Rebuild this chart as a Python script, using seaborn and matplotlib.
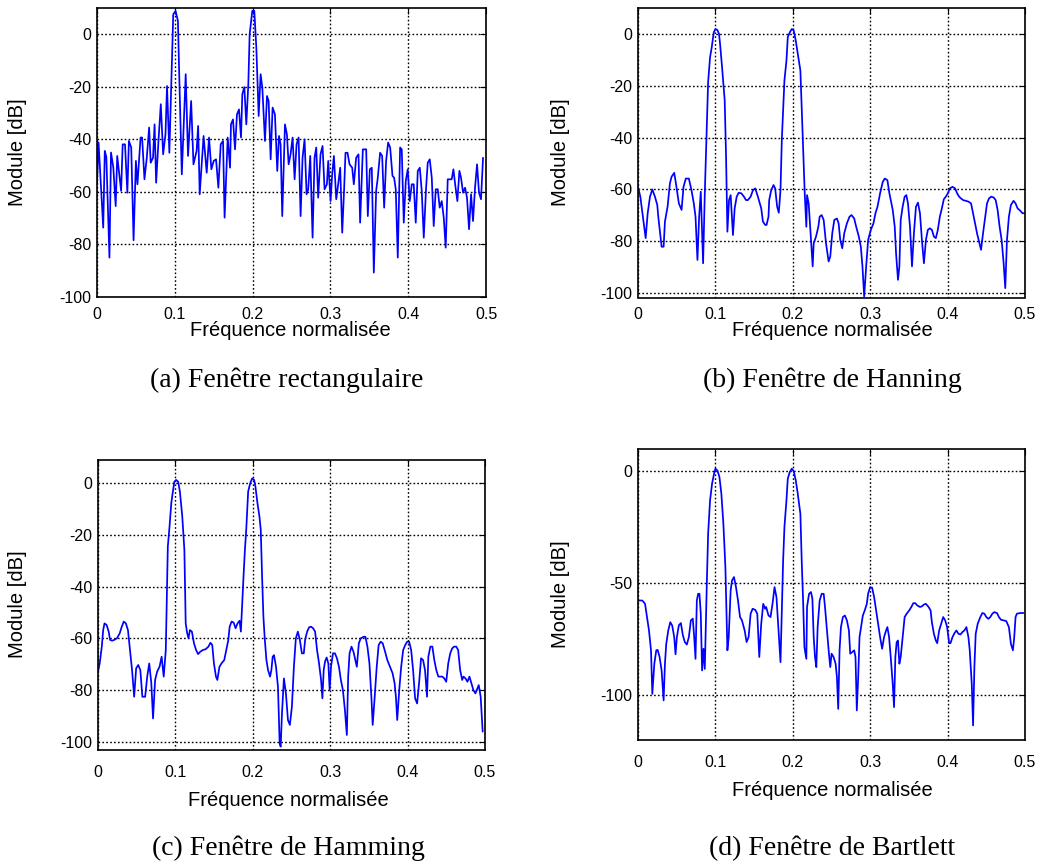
import matplotlib
matplotlib.use("Agg")
import matplotlib.pyplot as plt
import seaborn as sns

# ---------------------------------------------------------------------------
# Spectra (normalised frequency, magnitude in dB) of the two-tone test signal
# ---------------------------------------------------------------------------
freq_rect = [
    0.000, 0.002, 0.008, 0.010, 0.012, 0.016, 0.018, 0.021, 0.024, 0.026,
    0.031, 0.033, 0.036, 0.039, 0.041, 0.044, 0.047, 0.050, 0.052, 0.056,
    0.058, 0.061, 0.064, 0.067, 0.069, 0.072, 0.074, 0.076, 0.079, 0.082,
    0.085, 0.088, 0.090, 0.093, 0.096, 0.098, 0.101, 0.104, 0.106, 0.109,
    0.114, 0.117, 0.121, 0.124, 0.128, 0.130, 0.132, 0.137, 0.141, 0.144,
    0.147, 0.150, 0.153, 0.156, 0.159, 0.162, 0.164, 0.168, 0.171,
    0.1722, 0.1748, 0.1774, 0.1799, 0.1825, 0.1851, 0.1868, 0.1894, 0.1919, 0.1945,
    0.1962, 0.1996, 0.2022, 0.2048, 0.2078, 0.2103, 0.2125, 0.2159, 0.2185, 0.2206,
    0.2232, 0.2257, 0.2287, 0.2317, 0.2339, 0.2360, 0.2381, 0.2416, 0.2441, 0.2463,
    0.2488, 0.2514, 0.2540, 0.2565, 0.2591, 0.2617, 0.2642, 0.2668, 0.2694, 0.2715,
    0.2741, 0.2771, 0.2796, 0.2818, 0.2843, 0.2873, 0.2899, 0.2925, 0.2955, 0.2972,
    0.3002, 0.3023, 0.3045, 0.3075, 0.3100, 0.3126, 0.3152, 0.3177, 0.3194, 0.3220,
    0.3246, 0.3280, 0.3301, 0.3331, 0.3361, 0.3382, 0.3417,
    0.3460, 0.3481, 0.3507, 0.3532, 0.3558, 0.3588, 0.3609, 0.3639, 0.3665, 0.3691,
    0.3716, 0.3742, 0.3768, 0.3798, 0.3819, 0.3840, 0.3866, 0.3896, 0.3917, 0.3943,
    0.3969, 0.3994, 0.4020, 0.4046, 0.4071, 0.4097, 0.4123, 0.4149, 0.4174, 0.4200,
    0.4230, 0.4251, 0.4277, 0.4303, 0.4328, 0.4354, 0.4380, 0.4405, 0.4431, 0.4457,
    0.4482, 0.4508, 0.4534, 0.4559, 0.4581, 0.4606, 0.4632, 0.4658, 0.4679, 0.4705,
    0.4731, 0.4756, 0.4782, 0.4808, 0.4833, 0.4859, 0.4885, 0.4910, 0.4936, 0.4962,
]
db_rect = [
    -57.1, -41.2, -73.6, -44.4, -46.7, -85.0, -45.0, -50.8, -65.4, -46.3,
    -59.6, -41.9, -41.9, -60.3, -40.6, -43.1, -78.4, -48.2, -57.1, -39.3,
    -39.3, -55.2, -47.0, -35.5, -48.9, -47.0, -34.3, -56.5, -40.6, -26.6,
    -45.7, -38.1, -19.7, -45.1, -12.7, 7.6, 8.9, 5.1, -19.0, -53.3,
    -15.2, -46.3, -25.4, -49.5, -44.4, -34.9, -60.9, -38.7, -52.7, -39.3,
    -51.4, -48.2, -47.6, -58.4, -41.9, -40.6, -69.8, -39.3, -50.8,
    -34.3, -32.4, -43.8, -30.5, -28.6, -39.3, -22.8, -20.1, -34.3, -19.0,
    0.0, 8.9, 8.9, -5.1, -31.1, -15.2, -20.3, -40.6, -23.5, -25.4,
    -47.6, -27.9, -30.5, -52.0, -38.7, -41.9, -69.2, -34.3, -38.1, -49.5,
    -45.7, -39.3, -55.2, -41.9, -39.3, -69.2, -47.0, -40.0, -60.9, -59.0,
    -46.3, -77.4, -47.0, -43.1, -62.2, -45.7, -42.5, -59.0, -57.1, -48.2,
    -63.5, -53.3, -46.3, -62.8, -57.1, -50.8, -75.5, -58.4, -45.1, -45.1,
    -49.5, -50.8, -57.1, -47.0, -45.7, -71.7, -43.8,
    -43.8, -69.2, -51.4, -50.8, -90.7, -59.6, -54.6, -45.1, -46.3, -66.0,
    -48.2, -41.2, -43.1, -53.9, -54.6, -59.0, -85.0, -43.1, -43.8, -71.7,
    -55.8, -51.4, -63.5, -57.1, -57.1, -71.7, -52.0, -50.8, -59.6, -77.4,
    -58.4, -48.9, -47.6, -54.6, -73.0, -59.0, -59.0, -66.0, -63.5, -69.8,
    -81.2, -55.2, -55.2, -55.2, -51.4, -57.7, -63.5, -52.0, -54.6, -60.3,
    -58.4, -62.2, -74.2, -60.9, -71.1, -58.4, -49.5, -60.3, -62.8, -47.0,
]

freq_hann = [
    0.000, 0.003, 0.0099, 0.0125, 0.0155, 0.0185, 0.0219, 0.0249, 0.0262, 0.0305,
    0.0331, 0.0348, 0.0382, 0.0412, 0.0434, 0.0468, 0.0490, 0.0528, 0.0563, 0.0588,
    0.0618, 0.0657, 0.0691, 0.0721, 0.0743, 0.0768, 0.0790, 0.0811, 0.0841, 0.0863,
    0.0884, 0.0906, 0.0931, 0.0953, 0.0979, 0.1000, 0.1026, 0.1047, 0.1060, 0.1086,
    0.1120, 0.1137, 0.1155, 0.1176, 0.1197, 0.1227, 0.1249, 0.1275, 0.1300, 0.1335,
    0.1369, 0.1395, 0.1421, 0.1455, 0.1485, 0.1515, 0.1549, 0.1592, 0.1614, 0.1644,
    0.1661, 0.1686, 0.1695, 0.1721, 0.1751, 0.1772, 0.1798, 0.1819, 0.1841, 0.1858,
    0.1875, 0.1892, 0.1918, 0.1935, 0.1961, 0.1987, 0.2012, 0.2038, 0.2064, 0.2098,
    0.2115, 0.2133, 0.2154, 0.2175, 0.2184, 0.2205, 0.2235, 0.2257, 0.2270, 0.2300,
    0.2330, 0.2347, 0.2373, 0.2399, 0.2429, 0.2463, 0.2484, 0.2510, 0.2536, 0.2570,
    0.2592, 0.2613, 0.2639, 0.2665, 0.2699, 0.2733, 0.2759, 0.2793, 0.2819, 0.2853,
    0.2879, 0.2900, 0.2922, 0.2948, 0.2973, 0.3008, 0.3042, 0.3068, 0.3094, 0.3128,
    0.3162, 0.3188, 0.3222, 0.3248, 0.3291, 0.3317,
    0.3334, 0.3359, 0.3377, 0.3394, 0.3419, 0.3445, 0.3467, 0.3488, 0.3514, 0.3540,
    0.3565, 0.3591, 0.3617, 0.3643, 0.3668, 0.3694, 0.3720, 0.3745, 0.3771, 0.3797,
    0.3823, 0.3848, 0.3874, 0.3900, 0.3926, 0.3951, 0.3977, 0.4003, 0.4029, 0.4063,
    0.4097, 0.4123, 0.4149, 0.4174, 0.4200, 0.4235, 0.4269, 0.4303, 0.4329, 0.4355,
    0.4380, 0.4406, 0.4432, 0.4458, 0.4483, 0.4509, 0.4535, 0.4561, 0.4595, 0.4621,
    0.4646, 0.4672, 0.4698, 0.4724, 0.4745, 0.4767, 0.4792, 0.4818, 0.4852, 0.4878,
    0.4904, 0.4938, 0.4968, 0.4990,
]
db_hann = [
    -59.0, -62.8, -78.8, -69.2, -62.8, -60.0, -62.8, -66.0, -70.5, -82.1,
    -82.1, -72.4, -66.7, -57.7, -55.1, -53.6, -57.7, -65.4, -67.9, -59.0,
    -55.8, -55.8, -60.3, -65.4, -70.5, -87.2, -70.5, -60.9, -88.5, -61.5,
    -41.0, -18.6, -9.0, -5.1, 0.6, 1.9, 1.5, 0.0, -3.8, -12.8,
    -25.6, -46.2, -76.3, -64.1, -62.2, -77.6, -67.3, -62.8, -61.3, -61.5,
    -62.8, -64.1, -64.1, -62.8, -60.3, -59.6, -62.8, -67.3, -72.4, -73.7,
    -73.7, -70.5, -64.1, -60.3, -58.3, -59.6, -66.7, -69.0, -60.3, -41.0,
    -29.5, -17.9, -10.3, -1.3, 0.6, 1.9, 1.3, -2.6, -7.7, -14.1,
    -28.2, -43.6, -61.5, -74.4, -62.2, -65.4, -79.5, -89.7, -80.8, -78.2,
    -74.4, -70.5, -69.9, -71.8, -80.8, -87.8, -85.9, -76.9, -71.8, -71.2,
    -73.1, -79.5, -82.7, -76.9, -73.1, -70.5, -69.9, -71.2, -74.4, -78.2,
    -82.1, -89.7, -101.3, -89.7, -79.5, -75.6, -73.1, -69.2, -66.7, -61.5,
    -57.1, -55.8, -56.4, -61.5, -67.9, -74.4,
    -84.6, -94.9, -89.7, -71.8, -66.7, -62.8, -62.2, -65.4, -74.4, -89.7,
    -76.9, -66.7, -65.1, -69.2, -79.5, -88.5, -79.5, -75.6, -75.0, -75.6,
    -78.2, -78.8, -75.6, -70.5, -67.3, -63.8, -62.8, -61.5, -59.6, -59.0,
    -59.6, -61.5, -62.8, -63.5, -64.1, -64.4, -64.7, -65.4, -69.2, -73.1,
    -76.9, -80.1, -83.3, -76.9, -71.2, -65.4, -63.5, -62.8, -63.1, -64.1,
    -67.9, -74.4, -79.5, -88.5, -98.1, -79.5, -70.5, -66.0, -64.4, -65.4,
    -67.3, -68.2, -69.2, -69.2,
]

freq_hamm = [
    0.000, 0.0022, 0.0049, 0.0067, 0.0084, 0.0111, 0.0138, 0.0156, 0.0182, 0.0209,
    0.0244, 0.0280, 0.0307, 0.0333, 0.0360, 0.0387, 0.0413, 0.0440, 0.0467, 0.0493,
    0.0520, 0.0547, 0.0573, 0.0609, 0.0636, 0.0662, 0.0689, 0.0711, 0.0738, 0.0764,
    0.0796, 0.0822, 0.0849, 0.0876, 0.0902, 0.0924, 0.0947, 0.0964, 0.0987, 0.1009,
    0.1036, 0.1058, 0.1089, 0.1116, 0.1133, 0.1151, 0.1169, 0.1187, 0.1213, 0.1240,
    0.1267, 0.1293, 0.1320, 0.1356, 0.1391, 0.1427, 0.1453, 0.1476, 0.1498, 0.1524,
    0.1542, 0.1569, 0.1596, 0.1631,
    0.1658, 0.1684, 0.1701, 0.1726, 0.1752, 0.1778, 0.1803, 0.1829, 0.1846, 0.1863,
    0.1880, 0.1898, 0.1915, 0.1940, 0.1966, 0.1992, 0.2017, 0.2034, 0.2060, 0.2086,
    0.2103, 0.2120, 0.2137, 0.2154, 0.2176, 0.2197, 0.2223, 0.2240, 0.2257, 0.2274,
    0.2300, 0.2325, 0.2347, 0.2360, 0.2377, 0.2402, 0.2428, 0.2454, 0.2479, 0.2505,
    0.2531, 0.2556, 0.2582, 0.2608, 0.2634, 0.2659, 0.2676, 0.2702, 0.2728, 0.2753,
    0.2779, 0.2805, 0.2830, 0.2856, 0.2882, 0.2899, 0.2916, 0.2933, 0.2954, 0.2976,
    0.2993, 0.3010, 0.3036, 0.3061, 0.3087, 0.3113, 0.3138, 0.3164, 0.3190, 0.3215,
    0.3232, 0.3250, 0.3275, 0.3301,
    0.3344, 0.3370, 0.3395, 0.3430, 0.3455, 0.3481, 0.3507, 0.3532, 0.3549, 0.3575,
    0.3601, 0.3626, 0.3652, 0.3678, 0.3703, 0.3738, 0.3772, 0.3806, 0.3832, 0.3849,
    0.3866, 0.3892, 0.3917, 0.3943, 0.3969, 0.3994, 0.4020, 0.4046, 0.4071, 0.4097,
    0.4123, 0.4148, 0.4174, 0.4200, 0.4225, 0.4251, 0.4268, 0.4294, 0.4320, 0.4345,
    0.4371, 0.4397, 0.4422, 0.4448, 0.4474, 0.4499, 0.4525, 0.4551, 0.4576, 0.4602,
    0.4628, 0.4653, 0.4679, 0.4705, 0.4722, 0.4748, 0.4773, 0.4799, 0.4825, 0.4850,
    0.4876, 0.4893, 0.4919, 0.4944, 0.4970,
]
db_hamm = [
    -72.9, -69.7, -63.2, -56.8, -54.2, -54.8, -57.4, -60.6, -60.9, -60.6,
    -60.0, -58.1, -55.5, -53.5, -54.2, -56.8, -64.5, -72.3, -82.6, -71.6,
    -70.3, -72.3, -82.6, -82.6, -74.8, -69.7, -77.4, -91.0, -76.1, -72.9,
    -70.9, -67.1, -74.8, -64.5, -24.5, -16.8, -7.7, -3.9, 0.6, 1.3,
    0.6, -3.2, -12.9, -25.8, -54.2, -57.8, -60.0, -56.8, -57.4, -61.9,
    -64.5, -66.1, -65.2, -64.5, -64.2, -63.2, -61.7, -62.6, -69.7, -74.8,
    -76.1, -71.0, -69.7, -68.4,
    -64.5, -60.6, -55.5, -53.5, -53.9, -56.1, -54.2, -53.2, -57.4, -46.5,
    -36.1, -25.8, -18.1, -3.2, 0.0, 1.9, 1.3, -1.3, -7.7, -12.9,
    -18.1, -36.1, -51.6, -60.0, -68.4, -72.3, -74.8, -72.3, -67.1, -66.5,
    -71.0, -78.7, -100.6, -101.9, -89.0, -75.5, -81.3, -91.6, -93.5, -86.5,
    -71.0, -60.0, -57.4, -60.6, -65.8, -65.8, -60.6, -57.4, -55.7, -55.5,
    -56.1, -57.4, -64.5, -69.7, -76.1, -83.2, -72.3, -69.0, -67.4, -69.7,
    -80.0, -71.0, -65.8, -65.8, -67.7, -71.0, -76.1, -80.0, -87.7, -97.4,
    -74.8, -65.8, -63.2, -65.2,
    -71.0, -61.9, -60.0, -59.4, -59.4, -63.2, -69.7, -82.6, -93.5, -82.6,
    -71.0, -62.6, -61.3, -61.9, -64.5, -68.4, -71.0, -73.5, -77.4, -82.6,
    -91.6, -80.0, -71.0, -64.5, -62.6, -61.3, -61.3, -64.5, -72.3, -83.2,
    -85.2, -77.4, -67.7, -68.4, -72.3, -82.6, -67.1, -63.2, -63.2, -68.4,
    -72.3, -74.8, -74.8, -74.8, -75.5, -76.8, -69.7, -65.8, -63.9, -63.2,
    -63.2, -64.5, -72.3, -76.1, -74.8, -75.5, -76.8, -74.8, -77.4, -80.0,
    -81.3, -80.0, -78.1, -82.6, -96.1,
]

freq_bart = [
    0.000, 0.0056, 0.0091, 0.0116, 0.0142, 0.0168, 0.0185, 0.0211, 0.0236, 0.0254,
    0.0279, 0.0305, 0.0331, 0.0348, 0.0365, 0.0391, 0.0417, 0.0442, 0.0468, 0.0485,
    0.0502, 0.0528, 0.0554, 0.0580, 0.0605, 0.0631, 0.0657, 0.0683, 0.0708, 0.0726,
    0.0743, 0.0760, 0.0777, 0.0794, 0.0811, 0.0828, 0.0846, 0.0863, 0.0889, 0.0906,
    0.0931, 0.0957, 0.0983, 0.1000, 0.1026, 0.1052, 0.1077, 0.1103, 0.1129, 0.1155,
    0.1172, 0.1197, 0.1215, 0.1240, 0.1266, 0.1292, 0.1318, 0.1343, 0.1378, 0.1403,
    0.1429, 0.1455, 0.1481, 0.1515, 0.1541, 0.1567, 0.1592, 0.1618, 0.1644,
    0.1656, 0.1686, 0.1712, 0.1738, 0.1764, 0.1789, 0.1815, 0.1841, 0.1858, 0.1875,
    0.1892, 0.1918, 0.1935, 0.1961, 0.1987, 0.2012, 0.2038, 0.2064, 0.2098, 0.2115,
    0.2133, 0.2150, 0.2175, 0.2184, 0.2210, 0.2235, 0.2253, 0.2270, 0.2287, 0.2304,
    0.2321, 0.2347, 0.2373, 0.2399, 0.2416, 0.2441, 0.2467, 0.2484, 0.2501, 0.2527,
    0.2553, 0.2570, 0.2587, 0.2604, 0.2622, 0.2647, 0.2673, 0.2699, 0.2725, 0.2742,
    0.2767, 0.2793, 0.2810, 0.2827, 0.2845, 0.2862, 0.2888, 0.2905, 0.2930, 0.2956,
    0.2973, 0.2999, 0.3025, 0.3051, 0.3076, 0.3102, 0.3128, 0.3154, 0.3179, 0.3205,
    0.3222, 0.3244, 0.3265, 0.3291, 0.3308,
    0.3325, 0.3342, 0.3359, 0.3377, 0.3394, 0.3419, 0.3445, 0.3471, 0.3505, 0.3531,
    0.3557, 0.3582, 0.3608, 0.3643, 0.3668, 0.3694, 0.3720, 0.3754, 0.3780, 0.3797,
    0.3823, 0.3848, 0.3866, 0.3891, 0.3917, 0.3943, 0.3969, 0.3994, 0.4020, 0.4037,
    0.4063, 0.4089, 0.4114, 0.4140, 0.4166, 0.4192, 0.4217, 0.4243, 0.4269, 0.4286,
    0.4312, 0.4329, 0.4346, 0.4363, 0.4389, 0.4423, 0.4449, 0.4475, 0.4500, 0.4526,
    0.4552, 0.4578, 0.4603, 0.4638, 0.4663, 0.4689, 0.4724, 0.4758, 0.4792, 0.4818,
    0.4844, 0.4861, 0.4878, 0.4895, 0.4938, 0.4981,
]
db_bart = [
    -57.8, -57.8, -59.3, -65.2, -71.2, -80.1, -99.6, -86.1, -80.1, -79.9,
    -83.1, -89.1, -102.5, -86.1, -77.2, -71.2, -67.5, -69.0, -74.2, -81.9,
    -74.2, -68.9, -67.9, -73.4, -76.4, -77.5, -74.2, -66.7, -65.9, -74.2,
    -83.9, -57.8, -54.8, -54.8, -63.7, -89.1, -79.4, -88.4, -50.3, -27.9,
    -13.0, -5.5, -1.0, 1.2, 0.4, -2.5, -10.0, -23.4, -42.8, -80.1,
    -74.2, -53.3, -48.8, -47.3, -51.8, -57.8, -65.2, -66.7, -71.2, -76.4,
    -74.2, -63.7, -61.5, -62.0, -63.7, -83.1, -68.2, -59.3, -61.5,
    -60.7, -64.5, -65.2, -59.3, -51.8, -56.3, -71.2, -85.4, -62.2, -39.9,
    -24.9, -13.0, -3.3, -0.3, 1.2, 0.1, -4.0, -10.0, -19.0, -39.9,
    -57.8, -78.7, -83.9, -60.7, -54.8, -54.0, -57.0, -74.2, -83.1, -87.6,
    -69.7, -57.8, -54.8, -54.8, -60.7, -71.2, -81.6, -87.6, -81.6, -83.1,
    -86.1, -92.1, -106.3, -80.1, -69.7, -65.2, -64.5, -66.7, -71.2, -81.6,
    -80.9, -80.1, -83.1, -107.0, -92.1, -74.2, -68.2, -64.5, -62.2, -59.3,
    -54.8, -51.8, -52.1, -56.3, -62.2, -68.2, -74.2, -79.4, -74.2, -71.2,
    -69.7, -74.2, -83.1, -95.1, -105.5,
    -83.1, -76.4, -75.7, -86.1, -83.1, -74.2, -65.2, -63.7, -62.2, -60.7,
    -59.0, -59.0, -60.0, -60.7, -60.4, -59.6, -59.3, -60.7, -62.2, -67.5,
    -72.7, -75.7, -76.9, -71.2, -68.2, -65.2, -66.7, -69.7, -76.9, -76.9,
    -74.2, -72.4, -71.2, -72.7, -73.0, -71.9, -71.2, -69.7, -74.2, -80.1,
    -95.1, -113.7, -87.6, -72.7, -68.2, -65.2, -63.4, -63.7, -65.2, -66.0,
    -65.2, -63.7, -63.0, -63.4, -65.2, -66.4, -66.7, -67.0, -69.7, -77.2,
    -80.1, -74.2, -65.2, -63.7, -63.4, -63.4,
]

# Axis ticks and texts
freq_ticks = [0.0, 0.1, 0.2, 0.3, 0.4, 0.5]
freq_ticklabels = ["0", "0.1", "0.2", "0.3", "0.4", "0.5"]
db_ticks_20 = [-100, -80, -60, -40, -20, 0]
db_ticks_50 = [-100, -50, 0]
xlabel_text = "Fréquence normalisée"
ylabel_text = "Module [dB]"
captions = ["(a) Fenêtre rectangulaire", "(b) Fenêtre de Hanning",
            "(c) Fenêtre de Hamming", "(d) Fenêtre de Bartlett"]

# ---------------------------------------------------------------------------
sns.set_style("white")
plt.rcParams["font.family"] = ["Liberation Sans", "DejaVu Sans"]
plt.rcParams.update({"text.color": "black", "axes.labelcolor": "black",
                     "xtick.color": "black", "ytick.color": "black"})

W, H = 1046, 867
fig = plt.figure(figsize=(W / 100, H / 100), dpi=100)


def box(left, top, right, bottom):
    """Axes rectangle from pixel edges (origin at the top-left corner)."""
    return [left / W, 1 - bottom / H, (right - left) / W, (bottom - top) / H]


def fx(px):
    return px / W


def fy(py):
    return 1 - py / H


panels = [
    dict(freq=freq_rect, db=db_rect, rect=box(97, 8, 486, 297), ylim=(-100, 10),
         yticks=db_ticks_20, xpad=7.0, xlab=(290, 331), ylab=(18, 152), cap=(287, 380)),
    dict(freq=freq_hann, db=db_hann, rect=box(638, 8, 1025, 297.5), ylim=(-101.7, 10),
         yticks=db_ticks_20, xpad=7.0, xlab=(832, 331), ylab=(560, 152), cap=(832, 380)),
    dict(freq=freq_hamm, db=db_hamm, rect=box(98, 460, 485, 750), ylim=(-103.2, 9),
         yticks=db_ticks_20, xpad=10.5, xlab=(288, 801), ylab=(18, 604), cap=(288, 848)),
    dict(freq=freq_bart, db=db_bart, rect=box(638, 449, 1025, 739.5), ylim=(-120, 10),
         yticks=db_ticks_50, xpad=11.5, xlab=(832, 791), ylab=(560, 594), cap=(832, 848)),
]

for p, caption in zip(panels, captions):
    ax = fig.add_axes(p["rect"])
    sns.lineplot(x=p["freq"], y=p["db"], ax=ax, color="#0000ff", linewidth=1.25,
                 estimator=None, sort=False)
    ax.set_xlim(0, 0.5)
    ax.set_ylim(*p["ylim"])
    ax.set_xticks(freq_ticks)
    ax.set_xticklabels(freq_ticklabels)
    ax.set_yticks(p["yticks"])
    ax.set_yticklabels([str(v) for v in p["yticks"]])
    ax.grid(True, color="black", linestyle=(0, (1.2, 1.6)), linewidth=1.0)
    ax.set_axisbelow(True)
    for s in ax.spines.values():
        s.set_color("black")
        s.set_linewidth(1.2)
    ax.tick_params(axis="both", direction="in", length=4, width=0.8, color="black",
                   top=True, right=True, labelsize=11.5, labelcolor="black")
    ax.tick_params(axis="x", pad=p["xpad"])
    ax.tick_params(axis="y", pad=4)

    ax.set_xlabel(xlabel_text, fontsize=14.5, va="center")
    ax.xaxis.set_label_coords(fx(p["xlab"][0]), fy(p["xlab"][1]), transform=fig.transFigure)
    ax.set_ylabel(ylabel_text, fontsize=14.5, va="center")
    ax.yaxis.set_label_coords(fx(p["ylab"][0]), fy(p["ylab"][1]), transform=fig.transFigure)

    fig.text(fx(p["cap"][0]), fy(p["cap"][1]), caption, ha="center", va="center",
             family="Liberation Serif", fontsize=20, color="black")

fig.savefig("out.png", dpi=100)
